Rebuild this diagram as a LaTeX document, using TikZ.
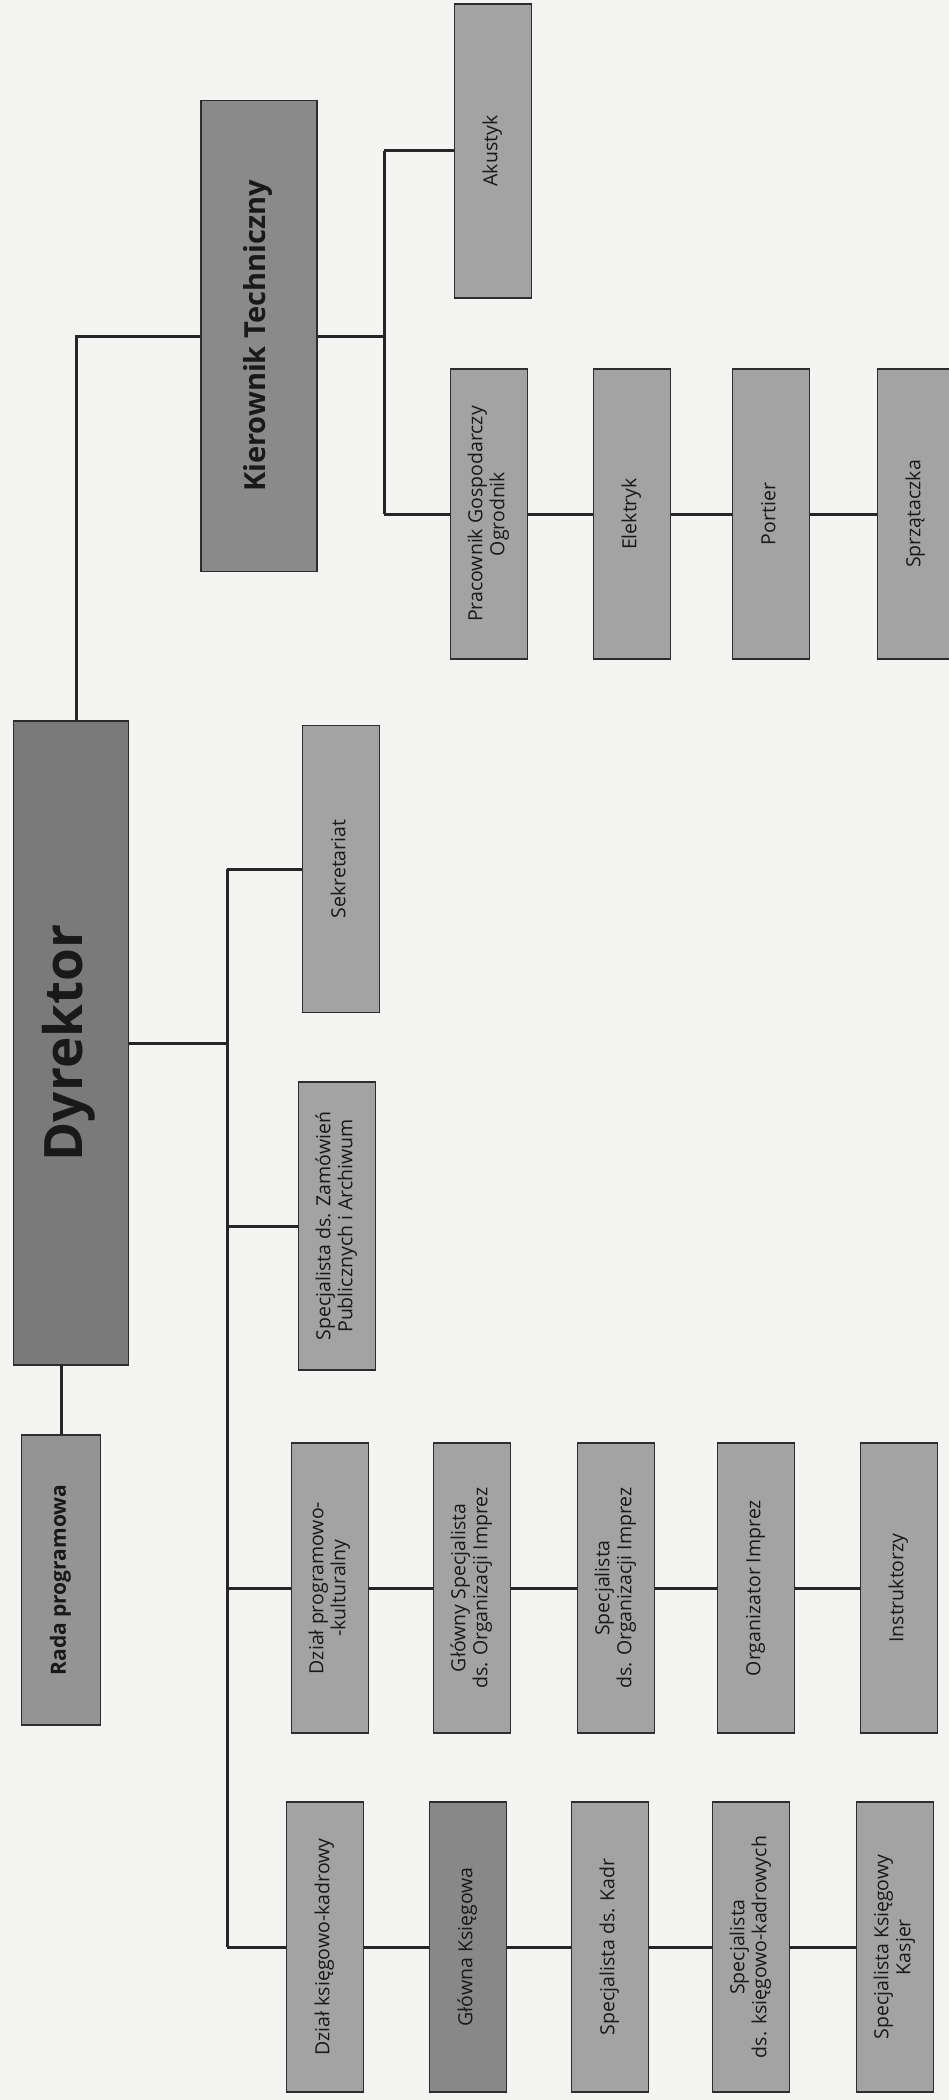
\documentclass[tikz,border=0pt]{standalone}
\usepackage{fontspec}
\setmainfont{Open Sans}
\definecolor{bg}{RGB}{244,244,242}
\definecolor{boxfill}{RGB}{163,163,163}
\definecolor{dirfill}{RGB}{122,122,122}
\definecolor{kierfill}{RGB}{138,138,138}
\definecolor{radafill}{RGB}{148,148,148}
\definecolor{glksfill}{RGB}{136,136,136}
\definecolor{edge}{RGB}{45,45,45}
\definecolor{txt}{RGB}{25,25,25}
\newcommand{\rt}[1]{\rotatebox{90}{\begin{tabular}{@{}c@{}}#1\end{tabular}}}
\tikzset{
  box/.style={draw=edge, line width=1.4pt, fill=boxfill, inner sep=0pt,
    minimum width=77pt, minimum height=290pt, text=txt,
    font=\fontsize{19.5}{22}\selectfont},
  conn/.style={draw=black!85, line width=3pt}
}
\begin{document}
\begin{tikzpicture}[x=1pt,y=-1pt]
\fill[bg] (0,0) rectangle (949,2100);
\useasboundingbox (0,0) rectangle (949,2100);

% Technical branch
\node[box, fill=kierfill, minimum width=116pt, minimum height=471pt,
      font=\bfseries\fontsize{29}{32}\selectfont] (kier) at (259,336) {\rt{Kierownik Techniczny}};
\node[box, minimum height=294pt] (akus) at (493,151) {\rt{Akustyk}};
\node[box] (prac) at (489,514) {\rt{Pracownik Gospodarczy\\Ogrodnik}};
\node[box] (elek) at (632,514) {\rt{Elektryk}};
\node[box] (port) at (771,514) {\rt{Portier}};
\node[box] (sprz) at (916,514) {\rt{Sprzątaczka}};

% Director
\node[box, fill=dirfill, minimum width=115pt, minimum height=644pt,
      font=\bfseries\fontsize{53}{58}\selectfont] (dyr) at (71,1043) {\rt{Dyrektor}};
\node[box, fill=radafill, minimum width=79pt,
      font=\bfseries\fontsize{21}{24}\selectfont] (rada) at (61,1580) {\rt{Rada programowa}};

\node[box, minimum height=287pt] (sekr) at (341,869) {\rt{Sekretariat}};
\node[box, minimum height=288pt] (zam) at (337,1226) {\rt{Specjalista ds. Zamówień\\Publicznych i Archiwum}};

% Program row
\node[box] (dzprog) at (330,1588) {\rt{Dział programowo-\\-kulturalny}};
\node[box] (glspec) at (472,1588) {\rt{Główny Specjalista\\ds. Organizacji Imprez}};
\node[box] (sporg) at (616,1588) {\rt{Specjalista\\ds. Organizacji Imprez}};
\node[box] (orgimp) at (756,1588) {\rt{Organizator Imprez}};
\node[box] (instr) at (899,1588) {\rt{Instruktorzy}};

% Accounting row
\node[box] (dzks) at (325,1947) {\rt{Dział księgowo-kadrowy}};
\node[box, fill=glksfill] (glks) at (468,1947) {\rt{Główna Księgowa}};
\node[box] (spkadr) at (610,1947) {\rt{Specjalista ds. Kadr}};
\node[box] (spkskadr) at (751,1947) {\rt{Specjalista\\ds. księgowo-kadrowych}};
\node[box] (kasjer) at (895,1947) {\rt{Specjalista Księgowy\\Kasjer}};

% connector coordinates
\coordinate (ttop) at (76,336);
\coordinate (tech) at (384,336);
\coordinate (trunk) at (227,1043);

% connectors
\draw[conn] (dyr.north -| ttop) -- (ttop) -- (kier.west);
\draw[conn] (kier.east) -- (tech);
\draw[conn] (tech |- akus.west) -- (tech |- prac.west);
\draw[conn] (tech |- akus.west) -- (akus.west);
\draw[conn] (tech |- prac.west) -- (prac.west);
\draw[conn] (prac.east) -- (elek.west);
\draw[conn] (elek.east) -- (port.west);
\draw[conn] (port.east) -- (sprz.west);

\draw[conn] (dyr.south -| rada) -- (rada.north);
\draw[conn] (dyr.east) -- (trunk);
\draw[conn] (trunk |- sekr.west) -- (trunk |- dzks.west);
\draw[conn] (trunk |- sekr.west) -- (sekr.west);
\draw[conn] (trunk |- zam.west) -- (zam.west);
\draw[conn] (trunk |- dzprog.west) -- (dzprog.west);
\draw[conn] (trunk |- dzks.west) -- (dzks.west);

\draw[conn] (dzprog.east) -- (glspec.west);
\draw[conn] (glspec.east) -- (sporg.west);
\draw[conn] (sporg.east) -- (orgimp.west);
\draw[conn] (orgimp.east) -- (instr.west);

\draw[conn] (dzks.east) -- (glks.west);
\draw[conn] (glks.east) -- (spkadr.west);
\draw[conn] (spkadr.east) -- (spkskadr.west);
\draw[conn] (spkskadr.east) -- (kasjer.west);
\end{tikzpicture}
\end{document}
